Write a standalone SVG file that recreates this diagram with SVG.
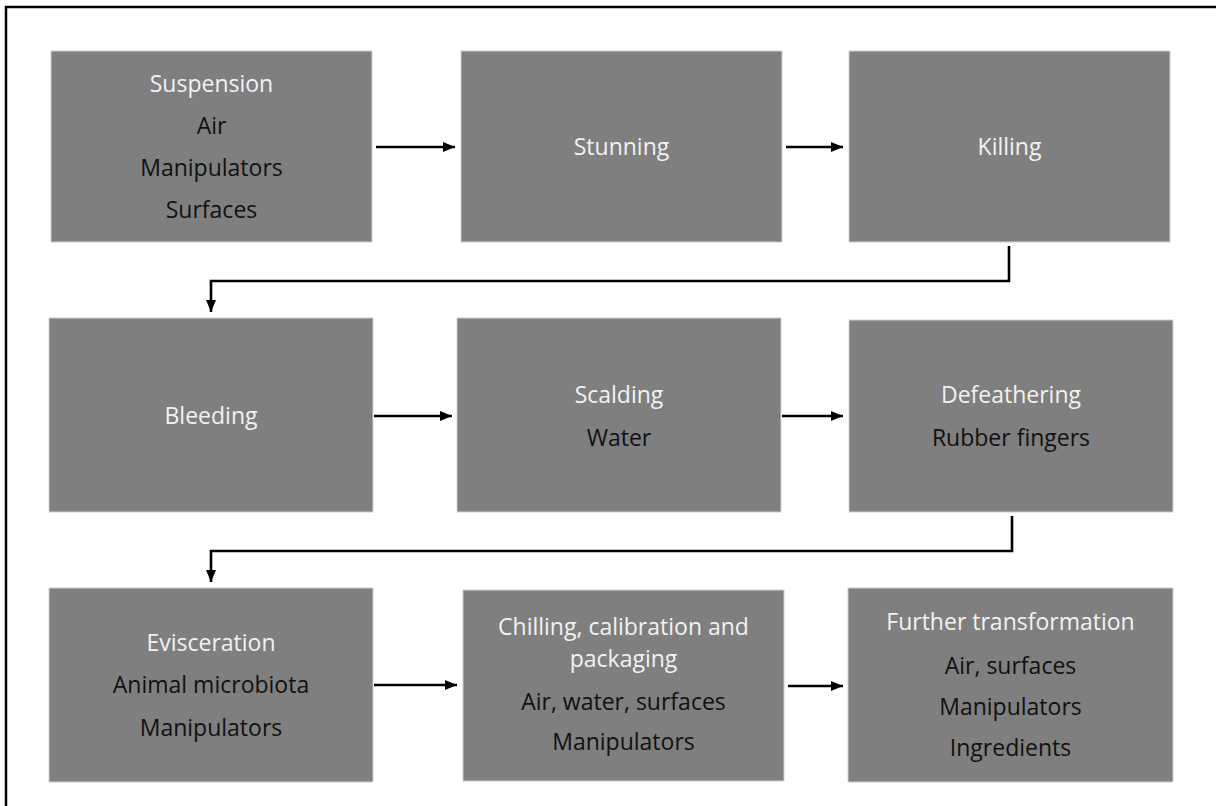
<svg xmlns="http://www.w3.org/2000/svg" width="1216" height="806" viewBox="0 0 1216 806">
<style>
.box{fill:#7f7f7f;stroke:#d0d0d0;stroke-width:1}
.t{font-family:"Open Sans","Liberation Sans",sans-serif;font-size:23px;text-anchor:middle}
.w{fill:#f2f2f2}
.k{fill:#111111}
.c{fill:none;stroke:#000;stroke-width:2.6}
</style>
<defs>
<marker id="ah" viewBox="0 0 12 10" refX="12" refY="5" markerWidth="12" markerHeight="10" markerUnits="userSpaceOnUse" orient="auto">
<path d="M0,0 L12,5 L0,10 Z" fill="#000"/>
</marker>
</defs>
<rect width="1216" height="806" fill="#fff"/>
<rect x="6" y="7" width="1230" height="820" fill="none" stroke="#000" stroke-width="2.5"/>

<g id="n-suspension">
<rect class="box" x="51" y="51" width="321" height="191"/>
<text class="t w" x="211.5" y="92">Suspension</text>
<text class="t k" x="211.5" y="134">Air</text>
<text class="t k" x="211.5" y="176">Manipulators</text>
<text class="t k" x="211.5" y="218">Surfaces</text>
</g>
<g id="n-stunning">
<rect class="box" x="461" y="51" width="321" height="191"/>
<text class="t w" x="621.5" y="155">Stunning</text>
</g>
<g id="n-killing">
<rect class="box" x="849" y="51" width="321" height="191"/>
<text class="t w" x="1009.5" y="155">Killing</text>
</g>
<g id="n-bleeding">
<rect class="box" x="49" y="318" width="324" height="194"/>
<text class="t w" x="211" y="424">Bleeding</text>
</g>
<g id="n-scalding">
<rect class="box" x="457" y="318" width="324" height="194"/>
<text class="t w" x="619" y="403">Scalding</text>
<text class="t k" x="619" y="446">Water</text>
</g>
<g id="n-defeathering">
<rect class="box" x="849" y="320" width="324" height="192"/>
<text class="t w" x="1011" y="403">Defeathering</text>
<text class="t k" x="1011" y="446">Rubber fingers</text>
</g>
<g id="n-evisceration">
<rect class="box" x="49" y="588" width="324" height="194"/>
<text class="t w" x="211" y="651">Evisceration</text>
<text class="t k" x="211" y="693">Animal microbiota</text>
<text class="t k" x="211" y="736">Manipulators</text>
</g>
<g id="n-chilling">
<rect class="box" x="463" y="590" width="321" height="191"/>
<text class="t w" x="623.5" y="635">Chilling, calibration and</text>
<text class="t w" x="623.5" y="667">packaging</text>
<text class="t k" x="623.5" y="710">Air, water, surfaces</text>
<text class="t k" x="623.5" y="750">Manipulators</text>
</g>
<g id="n-further">
<rect class="box" x="848" y="588" width="325" height="194"/>
<text class="t w" x="1010.5" y="630">Further transformation</text>
<text class="t k" x="1010.5" y="674">Air, surfaces</text>
<text class="t k" x="1010.5" y="715">Manipulators</text>
<text class="t k" x="1010.5" y="756">Ingredients</text>
</g>

<g id="connectors">
<path class="c" d="M376,147 H455" marker-end="url(#ah)"/>
<path class="c" d="M786,147 H843" marker-end="url(#ah)"/>
<path class="c" d="M1009,246 V281 H211 V312" marker-end="url(#ah)"/>
<path class="c" d="M374,416 H452" marker-end="url(#ah)"/>
<path class="c" d="M782,416 H843" marker-end="url(#ah)"/>
<path class="c" d="M1012,516 V551 H211 V582" marker-end="url(#ah)"/>
<path class="c" d="M374,685 H457" marker-end="url(#ah)"/>
<path class="c" d="M788,686 H843" marker-end="url(#ah)"/>
</g>
</svg>
